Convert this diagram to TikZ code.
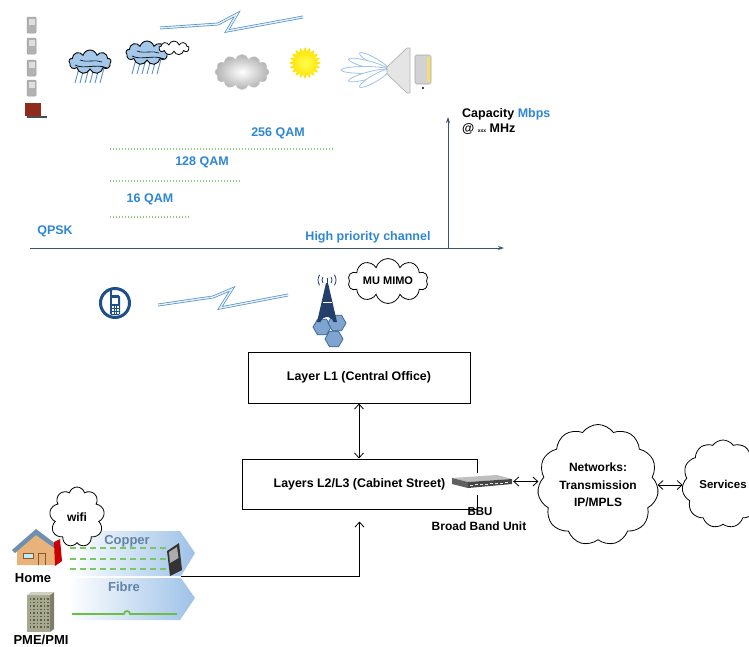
\documentclass[tikz,border=0pt]{standalone}
\usepackage{fontspec}
\setmainfont{Liberation Sans}
\usetikzlibrary{arrows.meta,shapes.symbols,shapes.geometric,calc}

\definecolor{qamblue}{HTML}{2F86D6}
\definecolor{axisc}{HTML}{3A5570}
\definecolor{boltout}{HTML}{4F8FC4}
\definecolor{boltin}{HTML}{E4EFF9}
\definecolor{dotgreen}{HTML}{8CCB7A}
\definecolor{wiregreen}{HTML}{6CBF45}
\definecolor{dashgreen}{HTML}{7CC563}
\definecolor{bandblue}{HTML}{9EC2E8}
\definecolor{slate}{HTML}{6383A6}
\definecolor{navy}{HTML}{1E4E8C}
\definecolor{towerc}{HTML}{23406B}
\definecolor{hexblue}{HTML}{7FA4D0}
\definecolor{hexdark}{HTML}{3C6799}
\definecolor{rainblue}{HTML}{A3C8EA}
\definecolor{rainline}{HTML}{5B8FC7}
\definecolor{housetan}{HTML}{E8B27A}
\definecolor{roofblue}{HTML}{6E8FAE}
\definecolor{bldg}{HTML}{A7A98F}
\definecolor{laptopred}{HTML}{8E2B1E}

\tikzset{
  lbl/.style={font=\fontsize{12.5}{14}\selectfont\bfseries, inner sep=0pt},
  qam/.style={lbl, text=qamblue},
  wirelbl/.style={lbl, text=slate, font=\fontsize{13}{15}\selectfont\bfseries},
  layerbox/.style={draw=black, line width=1pt, inner sep=0pt,
    font=\fontsize{12.4}{14}\selectfont\bfseries},
  netcloud/.style={cloud, draw=black, line width=0.8pt, cloud puffs=11,
    cloud puff arc=110, aspect=1, inner sep=0pt, align=center,
    font=\fontsize{12}{17.5}\selectfont\bfseries},
  link/.style={line width=0.8pt,
    {Straight Barb[length=5pt,width=9pt]}-{Straight Barb[length=5pt,width=9pt]}},
  uplink/.style={line width=0.8pt, -{Straight Barb[length=5pt,width=9pt]}},
  axis/.style={draw=axisc, line width=1pt, -{Stealth[length=6pt,width=4pt]}},
  level/.style={dotgreen, line width=1.1pt, dash pattern=on 1.4pt off 1.6pt},
  bolt/.style={draw=boltout, double=boltin, double distance=1.4pt,
    line width=0.7pt, line join=miter},
  phonebody/.style={fill=gray!60, draw=gray!75, line width=0.5pt, rounded corners=1pt},
  hexcell/.style={regular polygon, regular polygon sides=6, minimum size=18pt,
    inner sep=0pt, fill=hexblue, draw=hexdark, line width=0.8pt},
  raincloud/.pic={
    \foreach \dx in {-11,-6,...,14} {
      \draw[rainline, line width=0.9pt] (\dx,6) -- ++(-4,15);
    }
    \node[cloud, cloud puffs=9, draw=black, line width=0.9pt, fill=rainblue,
      minimum width=42pt, minimum height=24pt, inner sep=0pt] at (0,0) {};
    \draw[line width=0.7pt] (-15,3) .. controls (-5,8) and (5,1) .. (17,6);
    \draw[line width=0.6pt] (-10,-2) .. controls (-2,1) and (5,-3) .. (12,0);
  }
}

\begin{document}
\begin{tikzpicture}[x=1pt,y=-1pt]
\useasboundingbox (0,0) rectangle (749,646);
\fill[white] (0,0) rectangle (749,646);

% ---------------- radio link conditions ----------------
% stack of handsets and a laptop
\foreach \ya/\yb in {17/33, 38/54, 60/76, 80/96} {
  \fill[phonebody] (27,\ya) rectangle (36,\yb);
  \fill[white!75!gray] (28.5,\ya+2) rectangle (34.5,\ya+8);
}
\fill[laptopred] (25,103) rectangle (41,116);
\fill[black!70] (27,116) rectangle (47,118);

% microwave hop
\draw[bolt] (160,28) -- (218,24) -- (237,14) -- (227,31) -- (303,17);

% weather
\pic at (90,62) {raincloud};
\pic at (147,53) {raincloud};
\node[cloud, cloud puffs=9, draw=black, line width=0.8pt, fill=white,
  minimum width=30pt, minimum height=14pt, inner sep=0pt] at (174,48) {};
\node[cloud, cloud puffs=12, draw=gray!45, inner color=white, outer color=gray!60,
  minimum width=54pt, minimum height=35pt, inner sep=0pt] (fog) at (242,72) {};
\node[star, star points=20, star point ratio=1.35, inner color=yellow!70!white,
  outer color=orange!25!yellow, minimum size=32pt, inner sep=0pt] (sun) at (305,63) {};

% antenna beam and dish
\foreach \a/\l in {-30/34, -15/42, 0/48, 15/42, 30/34} {
  \draw[bandblue, fill=white, line width=0.8pt, rotate around={\a:(389,70)}]
    (389-\l/2,70) ellipse ({\l/2} and 3.5);
}
\fill[gray!20] (387,67) -- (407,48) -- (410,48) -- (410,93) -- (407,93) -- (387,74) -- cycle;
\draw[gray!60, line width=0.7pt] (387,67) -- (407,48) -- (410,48) -- (410,93) -- (407,93) -- (387,74) -- cycle;
\fill[gray!35, rounded corners=1.5pt] (415,55) rectangle (430,84);
\fill[yellow!60!brown!60] (427,57) rectangle (431,82);
\draw[gray!70, line width=0.6pt, rounded corners=1.5pt] (415,55) rectangle (431,84);
\fill[black] (423,88) circle (1.2);

% capacity axes
\coordinate (origin) at (448,248);
\draw[axis] (30,248) -- (504,248);
\draw[axis] (origin) -- (448,117);
\node[lbl, anchor=west] at (462,114) {Capacity \textcolor{qamblue}{Mbps}};
\node[lbl, anchor=west] at (462,129) {@ {\fontsize{5}{6}\selectfont xxx} MHz};

\node[qam] at (278,133) {256 QAM};
\draw[level] (110,149) -- (333,149);
\node[qam] at (202,162) {128 QAM};
\draw[level] (110,181) -- (240,181);
\node[qam] at (150,199) {16 QAM};
\draw[level] (110,217) -- (190,217);
\node[qam] at (55,231) {QPSK};
\node[qam] at (368,237) {High priority channel};

% ---------------- radio access ----------------
\node[circle, draw=navy, line width=3pt, minimum size=29pt, inner sep=0pt] (ue) at (115,303) {};
\fill[navy, rounded corners=1.5pt] (110,295) rectangle (120,315);
\draw[navy, line width=1.2pt] (111,296) -- (111,290);
\fill[white] (111.8,297.5) rectangle (118.2,304);
\foreach \px in {112,114.6,117.2} \foreach \py in {306,309,312}
  \fill[white] (\px,\py) rectangle ++(1.6,1.6);

\draw[bolt] (158,305) -- (213,297) -- (232,289) -- (220,308) -- (288,295);

% base station
\node[hexcell] at (322,327) {};
\node[hexcell] at (337,323) {};
\node[hexcell] at (334,339) {};
\fill[towerc] (326,283) -- (328,283) -- (337,322) -- (333.5,322)
  .. controls (331,315) and (323,315) .. (320.5,322) -- (317,322) -- cycle;
\draw[white, line width=0.6pt] (322.5,302) -- (331.5,302);
\draw[towerc, line width=1pt] (327,278) -- (327,285);
\foreach \r in {5,9} {
  \draw[towerc, line width=0.8pt] ([shift={(145:\r)}]327,280) arc (145:215:\r);
  \draw[towerc, line width=0.8pt] ([shift={(-35:\r)}]327,280) arc (-35:35:\r);
}
\node[cloud, draw=black, line width=0.8pt, cloud puffs=10, aspect=2.4,
  minimum width=80pt, minimum height=33pt, inner sep=0pt,
  font=\fontsize{11}{13}\selectfont\bfseries] (mimo) at (388,281) {MU MIMO};

% ---------------- fixed network ----------------
\node[layerbox, minimum width=222pt, minimum height=51pt] (l1) at (359,377.5)
  {Layer L1 (Central Office)};
\node[layerbox, minimum width=235pt, minimum height=50pt] (l2) at (359.5,484)
  {Layers L2/L3 (Cabinet Street)};
\draw[link] (l1.south) -- (l1.south |- l2.north);

% broadband unit on the cabinet edge
\fill[white] (473,473) rectangle (481,495);
\node[inner sep=0pt, minimum width=63pt, minimum height=14pt] (bbu) at (481.5,481.5) {};
\fill[gray!50] (452,478) -- (497,475) -- (512,479) -- (468,482) -- cycle;
\fill[gray!75!black] (452,478) -- (468,482) -- (468,488) -- (452,484) -- cycle;
\fill[gray!55!black] (468,482) -- (512,479) -- (512,484) -- (468,488) -- cycle;
\foreach \k in {0,...,7}
  \fill[gray!20] ($(470,484.6)+(\k*5,-0.34*\k)$) rectangle ++(3,1.2);
\node[lbl, font=\fontsize{11.5}{13}\selectfont\bfseries] at (480,512) {BBU};
\node[lbl, font=\fontsize{12}{14}\selectfont\bfseries] at (479,526) {Broad Band Unit};

\node[netcloud, minimum width=97pt, minimum height=95pt] (net) at (598,485)
  {Networks:\\Transmission\\IP/MPLS};
\node[netcloud, minimum width=82pt, minimum height=88pt,
  font=\fontsize{11.5}{14}\selectfont\bfseries] (svc) at (723,484) {Services};
\draw[link] (bbu.east) -- (bbu.east -| net.west);
\draw[link] (net.east) -- (net.east -| svc.west);

% ---------------- access: copper and fibre ----------------
\shade[left color=white, right color=bandblue]
  (68,531) -- (180,531) -- (195,553) -- (181,576) -- (68,576) -- cycle;
\shade[left color=white, right color=bandblue]
  (68,578) -- (181,578) -- (195,598) -- (180,620) -- (68,620) -- cycle;
\foreach \y in {548,559,569}
  \draw[dashgreen, line width=1.7pt, dash pattern=on 6pt off 4pt] (70,\y) -- (167,\y);
\draw[wiregreen, line width=1.8pt] (72,614) -- (124,614) arc (180:360:3) -- (177,614);
\node[wirelbl] at (127,541) {Copper};
\node[wirelbl] at (124,587) {Fibre};

% street cabinet
\fill[black!80] (167,551) -- (179,543) -- (182,570) -- (170,576) -- cycle;
\fill[gray!65] (169,552) -- (177,547) -- (178.5,558) -- (170,563) -- cycle;
\coordinate (cab) at (181,576);
\draw[uplink, shorten >=12pt] (cab) -| (l2.south);

% home
\fill[housetan] (17,548) -- (17,565) -- (55,565) -- (55,546) -- (36,533) -- cycle;
\fill[roofblue] (12,550) -- (36,529) -- (60,547) -- (57,550) -- (36,535) -- (15,553) -- cycle;
\fill[red!80!black] (54,542) -- (60,539) -- (62,561) -- (55,566) -- cycle;
\fill[cyan!25] (23,553) rectangle (33,558);
\draw[brown!70!black, line width=0.5pt] (23,553) rectangle (33,558);
\draw[brown!70!black, line width=0.6pt] (38,565) -- (38,553) -- (45,553) -- (45,565);
\node[cloud, draw=black, line width=0.8pt, cloud puffs=9, fill=white,
  minimum width=55pt, minimum height=60pt, inner sep=0pt,
  font=\fontsize{12}{14}\selectfont\bfseries] (wifi) at (77,517) {wifi};
\node[lbl, font=\fontsize{13}{15}\selectfont\bfseries] at (33,578) {Home};

% business building
\fill[bldg] (27,595) rectangle (50,632);
\fill[bldg!75!black] (50,595) -- (54,592) -- (54,629) -- (50,632) -- cycle;
\fill[bldg!55!white] (27,595) -- (31,592) -- (54,592) -- (50,595) -- cycle;
\foreach \bx in {29.5,33,36.5,40,43.5,47} \foreach \by in {598,601.5,...,629}
  \fill[bldg!55!black] (\bx,\by) rectangle ++(1.6,1.6);
\node[lbl, font=\fontsize{13}{15}\selectfont\bfseries] at (41,640) {PME/PMI};
\end{tikzpicture}
\end{document}
